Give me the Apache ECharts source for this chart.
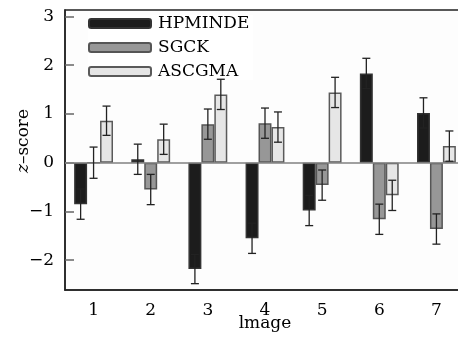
<!DOCTYPE html>
<html>
<head>
<meta charset="utf-8">
<script src="https://cdn.jsdelivr.net/npm/echarts@6/dist/echarts.min.js"></script>
<style>
html,body{margin:0;padding:0;background:#fff;}
#chart{width:458px;height:341px;}
</style>
</head>
<body>
<div id="chart"></div>
<script>
var categories = ['1', '2', '3', '4', '5', '6', '7'];
var seriesNames = ['HPMINDE', 'SGCK', 'ASCGMA'];
var hpminde = [-0.85, 0.07, -2.18, -1.55, -0.98, 1.83, 1.02];
var sgck = [0.0, -0.55, 0.79, 0.81, -0.46, -1.16, -1.36];
var ascgma = [0.86, 0.48, 1.40, 0.73, 1.44, -0.67, 0.34];
var hpmindeErr = [0.31, 0.31, 0.30, 0.31, 0.31, 0.31, 0.31];
var sgckErr = [0.32, 0.31, 0.31, 0.31, 0.31, 0.31, 0.31];
var ascgmaErr = [0.30, 0.31, 0.31, 0.31, 0.31, 0.31, 0.31];
var yTicks = [-2, -1, 0, 1, 2, 3];

var values = [hpminde, sgck, ascgma];
var errs = [hpmindeErr, sgckErr, ascgmaErr];
var fills = ['#1c1c1c', '#979797', '#e6e6e6'];
var borders = ['#333333', '#555555', '#5a5a5a'];
var FONT = 'DejaVu Serif';
var CATGAP = 0.32;

var chart = echarts.init(document.getElementById('chart'));
var series = [];
seriesNames.forEach(function (name, i) {
  series.push({
    name: name,
    type: 'bar',
    data: values[i],
    barGap: '0%',
    barCategoryGap: (CATGAP * 100) + '%',
    itemStyle: { color: fills[i], borderColor: borders[i], borderWidth: 1.5 },
    emphasis: { disabled: true },
    markLine: i === 0 ? {
      silent: true, symbol: 'none', label: { show: false },
      lineStyle: { color: '#808080', width: 1.5, type: 'solid' },
      data: [{ yAxis: 0 }]
    } : undefined,
    z: 2
  });
});
seriesNames.forEach(function (name, i) {
  var d = values[i].map(function (v, k) { return [k, v, errs[i][k]]; });
  series.push({
    type: 'custom',
    name: name + '_err',
    data: d,
    z: 5,
    silent: true,
    renderItem: function (params, api) {
      var k = api.value(0), v = api.value(1), e = api.value(2);
      var band = api.size([1, 0])[0];
      var bw = band * (1 - CATGAP) / 3;
      var c = api.coord([k, v]);
      var x = c[0] + (i - 1) * bw;
      var yTop = api.coord([k, v + e])[1];
      var yBot = api.coord([k, v - e])[1];
      var cap = 4;
      var st = { stroke: '#222', lineWidth: 1.3 };
      return {
        type: 'group',
        children: [
          { type: 'line', shape: { x1: x, y1: yTop, x2: x, y2: yBot }, style: st },
          { type: 'line', shape: { x1: x - cap, y1: yTop, x2: x + cap, y2: yTop }, style: st },
          { type: 'line', shape: { x1: x - cap, y1: yBot, x2: x + cap, y2: yBot }, style: st }
        ]
      };
    }
  });
});

chart.setOption({
  animation: false,
  backgroundColor: '#ffffff',
  grid: {
    left: 65, top: 10, bottom: 51, width: 400,
    outerBoundsMode: 'none', containLabel: false,
    show: true, borderColor: '#222', borderWidth: 1.5, backgroundColor: '#fdfdfd'
  },
  legend: {
    data: seriesNames,
    orient: 'vertical',
    left: 88,
    top: 15,
    itemWidth: 62,
    itemHeight: 9,
    itemGap: 7,
    backgroundColor: '#ffffff',
    padding: [0, 4, 0, 0],
    textStyle: { fontFamily: FONT, fontSize: 17, color: '#000', padding: [0, 0, 0, 2] }
  },
  xAxis: {
    type: 'category',
    data: categories,
    name: 'lmage',
    nameLocation: 'middle',
    nameGap: 25,
    nameMoveOverlap: false,
    nameTextStyle: { fontFamily: FONT, fontSize: 17, color: '#000' },
    axisLine: { onZero: false, lineStyle: { color: '#222', width: 1.5 } },
    axisTick: { show: false },
    axisLabel: { fontFamily: FONT, fontSize: 17, color: '#000', margin: 12 }
  },
  yAxis: {
    type: 'value',
    min: -2.61,
    max: 3.13,
    name: '{i|z}–score',
    nameLocation: 'middle',
    nameGap: 33,
    nameMoveOverlap: false,
    nameRotate: 90,
    nameTextStyle: {
      fontFamily: FONT, fontSize: 17, color: '#000',
      padding: [0, 0, 0, 18],
      rich: { i: { fontFamily: FONT, fontSize: 17, fontStyle: 'italic', color: '#000' } }
    },
    splitLine: { show: false },
    axisLine: { show: true, lineStyle: { color: '#222', width: 1.5 } },
    axisTick: { show: true, inside: true, length: 9, customValues: yTicks, lineStyle: { color: '#666', width: 1.5 } },
    axisLabel: {
      customValues: yTicks,
      fontFamily: FONT, fontSize: 17, color: '#000', margin: 11,
      formatter: function (v) { return String(v).replace('-', '\u2212'); }
    }
  },
  series: series
});
</script>
</body>
</html>
